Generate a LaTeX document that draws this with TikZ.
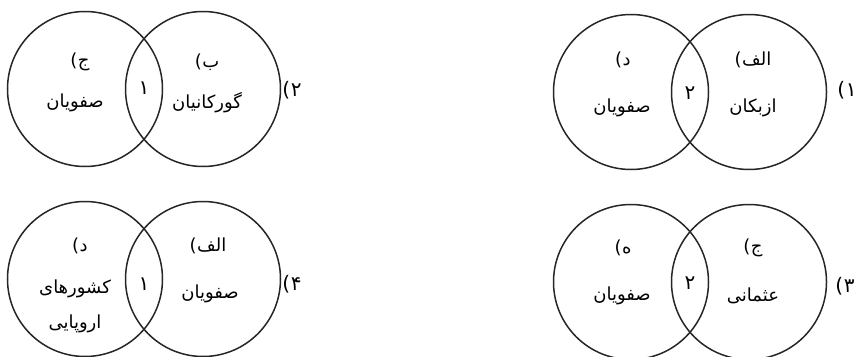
\documentclass[tikz,border=0pt]{standalone}
\usepackage{fontspec}
\newfontfamily\arabicfont[Script=Arabic]{DejaVu Sans}
\newfontfamily\parfont{DejaVu Sans}
\TeXXeTstate=1
\newcommand\plbl[1]{{\parfont (}\kern0.5pt\mbox{\beginR #1\endR}}
\tikzset{
  ring/.style={draw=black!85, line width=1.5pt, circle, minimum size=155pt},
  word/.style={font=\arabicfont\fontsize{18}{21}\selectfont, inner sep=0pt},
  num/.style={font=\arabicfont\fontsize{20}{22}\selectfont, inner sep=0pt}
}
\begin{document}
\begin{tikzpicture}[x=1pt,y=-1pt]
\useasboundingbox (0,0) rectangle (861,356);
\begin{scope}
\clip (0,0) rectangle (861,356);
% top-left (2)
\node[ring] (c2l) at (85,89) {};
\node[ring] (c2r) at (203,89) {};
% top-right (1)
\node[ring] (c1l) at (631,92) {};
\node[ring] (c1r) at (749,92) {};
% bottom-left (4)
\node[ring] (c4l) at (85,279) {};
\node[ring] (c4r) at (203,279) {};
% bottom-right (3)
\node[ring] (c3l) at (631,282) {};
\node[ring] (c3r) at (749,282) {};
\end{scope}
% texts top-left
\node[word] (t2a) at (80,62) {\plbl{ج}};
\node[word] (t2b) at (75,103) {\beginR صفویان\endR};
\node[word] (t2c) at (207,62) {\plbl{ب}};
\node[word] (t2d) at (207,103) {\beginR گورکانیان\endR};
\node[num] (t2n) at (144,88) {۱};
\node[num] (l2) at (292,90) {\plbl{۲}};
% texts top-right
\node[word] (t1a) at (623,60) {\plbl{د}};
\node[word] (t1b) at (622,108) {\beginR صفویان\endR};
\node[word] (t1c) at (753,60) {\plbl{الف}};
\node[word] (t1d) at (753,108) {\beginR ازبکان\endR};
\node[num] (t1n) at (690,93) {۲};
\node[num] (l1) at (847,90) {\plbl{۱}};
% texts bottom-left
\node[word] (t4a) at (80,246) {\plbl{د}};
\node[word] (t4b) at (75,289) {\beginR کشورهای\endR};
\node[word] (t4c) at (75,324) {\beginR اروپایی\endR};
\node[word] (t4d) at (208,246) {\plbl{الف}};
\node[word] (t4e) at (210,294) {\beginR صفویان\endR};
\node[num] (t4n) at (144,284) {۱};
\node[num] (l4) at (292,284) {\plbl{۴}};
% texts bottom-right
\node[word] (t3a) at (623,248) {\plbl{ه}};
\node[word] (t3b) at (622,296) {\beginR صفویان\endR};
\node[word] (t3c) at (753,248) {\plbl{ج}};
\node[word] (t3d) at (753,296) {\beginR عثمانی\endR};
\node[num] (t3n) at (690,283) {۲};
\node[num] (l3) at (845,286) {\plbl{۳}};
\end{tikzpicture}
\end{document}
